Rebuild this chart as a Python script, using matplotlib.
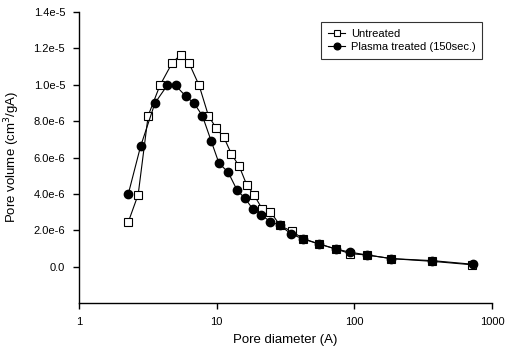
import numpy as np
import matplotlib
matplotlib.use('Agg')
import matplotlib.pyplot as plt
from matplotlib.ticker import FixedLocator, NullLocator, FixedFormatter

# pore size distribution
d_untreated = [2.28, 2.69, 3.18, 3.87, 4.75, 5.47, 6.29, 7.46, 8.71, 9.87,
               11.3, 12.8, 14.6, 16.5, 18.6, 21.4, 24.6, 28.8, 35.0, 42.6,
               55.2, 73.3, 93.7, 124, 186, 369, 720]
v_untreated = [2.45, 3.96, 8.3, 9.96, 11.2, 11.65, 11.2, 9.96, 8.3, 7.64,
               7.1, 6.19, 5.51, 4.51, 3.96, 3.18, 3.02, 2.27, 1.94, 1.54,
               1.25, 0.97, 0.71, 0.64, 0.44, 0.29, 0.1]

d_plasma = [2.28, 2.80, 3.56, 4.37, 5.03, 5.98, 6.84, 7.87, 9.12, 10.4,
            12.1, 14.1, 16.0, 18.3, 21.0, 24.5, 28.8, 34.7, 42.6, 55.2,
            73.3, 93.7, 124, 186, 369, 725]
v_plasma = [3.99, 6.61, 8.99, 9.96, 9.96, 9.36, 8.99, 8.3, 6.91, 5.68,
            5.2, 4.19, 3.77, 3.17, 2.86, 2.47, 2.27, 1.8, 1.51, 1.25,
            0.97, 0.79, 0.64, 0.44, 0.33, 0.13]

ytick_vals = [0.0, 2e-6, 4e-6, 6e-6, 8e-6, 1e-5, 1.2e-5, 1.4e-5]
ytick_labels = ['0.0', '2.0e-6', '4.0e-6', '6.0e-6', '8.0e-6', '1.0e-5', '1.2e-5', '1.4e-5']
xtick_vals = [1, 10, 100, 1000]

plt.rcParams['font.family'] = ['Liberation Sans', 'DejaVu Sans']

fig = plt.figure(figsize=(5.05, 3.47), dpi=100)
ax = fig.add_axes([79/505, 1 - 303/347, (492 - 79)/505, (303 - 12)/347])

ax.plot(d_untreated, np.array(v_untreated) * 1e-6, color='black', lw=0.8,
        marker='s', ms=5.3, mfc='white', mec='black', mew=0.8, label='Untreated')
ax.plot(d_plasma, np.array(v_plasma) * 1e-6, color='black', lw=0.8,
        marker='o', ms=6.0, mfc='black', mec='black', label='Plasma treated (150sec.)')

ax.set_xscale('log')
ax.set_xlim(1, 1000)
ax.set_ylim(-2e-6, 1.4e-5)
ax.xaxis.set_major_locator(FixedLocator(xtick_vals))
ax.xaxis.set_minor_locator(NullLocator())
ax.set_xticklabels([str(v) for v in xtick_vals])
ax.yaxis.set_major_locator(FixedLocator(ytick_vals))
ax.yaxis.set_major_formatter(FixedFormatter(ytick_labels))

for side in ['top', 'right']:
    ax.spines[side].set_visible(False)
for side in ['left', 'bottom']:
    ax.spines[side].set_linewidth(1.0)
ax.tick_params(direction='out', length=4, width=1.0, labelsize=8, pad=6)

ax.set_xlabel('Pore diameter (A)', fontsize=9.5, labelpad=5)
ax.set_ylabel('Pore volume (cm$^3$/gA)', fontsize=9.5, labelpad=8)

leg = ax.legend(loc='upper left', bbox_to_anchor=(321/505, 1 - 22/347),
                bbox_transform=fig.transFigure, borderaxespad=0, fontsize=8,
                frameon=True, fancybox=False, handlelength=1.6, handletextpad=0.5,
                borderpad=0.6, labelspacing=0.3, markerscale=0.8)
leg.get_frame().set_edgecolor('black')
leg.get_frame().set_linewidth(0.8)

fig.savefig('out.png', dpi=100)
